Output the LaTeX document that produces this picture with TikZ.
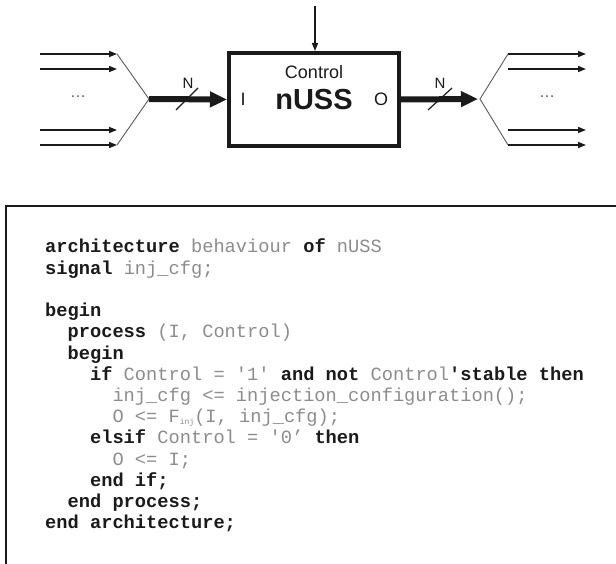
\documentclass[tikz,border=0pt]{standalone}
\usepackage{fontspec}
\setmainfont{Liberation Sans}
\newfontfamily\codefont{Liberation Mono}
\usetikzlibrary{arrows.meta}
\definecolor{ink}{HTML}{1A1A1A}
\definecolor{codegrey}{HTML}{8C8C8C}
\definecolor{fangrey}{HTML}{5A5A5A}
\newcommand{\kw}[1]{{\bfseries\color{ink}#1}}
\newcommand{\idf}[1]{{\color{codegrey}#1}}
\newcommand{\sq}{\textquotesingle}
\begin{document}
\begin{tikzpicture}[x=1pt,y=-1pt,
  thinarrow/.style={draw=ink,line width=1.5pt,-{Triangle[length=8pt,width=6pt]}},
  busarrow/.style={draw=ink,line width=6pt,-{Triangle[length=17pt,width=15pt]}},
  fanline/.style={draw=fangrey,line width=0.9pt},
  slashline/.style={draw=ink,line width=1.2pt},
  lbl/.style={inner sep=0pt,text=ink},
  codeline/.style={anchor=base west,inner sep=0pt,font=\codefont\fontsize{18.7}{21.2}\selectfont,text=codegrey},
  dots/.style={inner sep=0pt,text=fangrey,font=\fontsize{16}{16}\selectfont}]
\useasboundingbox (0,0) rectangle (616,564);

% ---------- block diagram ----------
\node[draw=ink,line width=4pt,minimum width=170pt,minimum height=93pt,inner sep=0pt] (box) at (314,99.5) {};
\node[lbl,font=\fontsize{18}{18}\selectfont] (ctl) at (314,72) {Control};
\node[lbl,font=\bfseries\fontsize{29}{29}\selectfont] (name) at (314,100) {nUSS};
\node[lbl,font=\fontsize{18}{18}\selectfont] (ilbl) at (243,99) {I};
\node[lbl,font=\fontsize{18}{18}\selectfont] (olbl) at (381,99) {O};

% control input
\coordinate (ctop) at (315,6);
\draw[thinarrow] (ctop) -- (ctop |- box.north);

% input fan
\coordinate (inL) at (149,99);
\foreach \i/\yy in {1/54,2/69,3/130,4/145}{
  \coordinate (is\i) at (40,\yy);
  \coordinate (ie\i) at (117,\yy);
  \draw[thinarrow] (is\i) -- (ie\i);
}
\draw[fanline] (ie1) -- (inL) -- (ie4);
\node[dots] (idots) at (78,97) {…};
\draw[busarrow] (inL) -- (box.west);
\coordinate (s1a) at (176,110);
\coordinate (s1b) at (198,88);
\draw[slashline] (s1a) -- (s1b);
\node[lbl,font=\fontsize{15}{15}\selectfont] (n1) at (188,83) {N};

% output fan
\coordinate (outR) at (478,99);
\draw[busarrow] (box.east) -- (outR);
\coordinate (s2a) at (428,110);
\coordinate (s2b) at (452,88);
\draw[slashline] (s2a) -- (s2b);
\node[lbl,font=\fontsize{15}{15}\selectfont] (n2) at (440,83) {N};
\foreach \i/\yy in {1/54,2/69,3/130,4/145}{
  \coordinate (os\i) at (508,\yy);
  \coordinate (oe\i) at (586,\yy);
  \draw[thinarrow] (os\i) -- (oe\i);
}
\coordinate (outF) at (480,99);
\draw[fanline] (os1) -- (outF) -- (os4);
\node[dots] (odots) at (547,97) {…};

% ---------- code box ----------
\begin{scope}
\clip (0,0) rectangle (616,564);
\draw[ink,line width=2.3pt] (6.2,206) rectangle (660,620);
\end{scope}

\def\cw{11.22}
\def\lh{21.2}
\node[codeline] (l0) at (45,253) {\kw{architecture} \idf{behaviour} \kw{of} \idf{nUSS}};
\node[codeline] (l1) at (45,253+\lh) {\kw{signal} \idf{inj\_cfg;}};
\node[codeline] (l3) at (45,253+3*\lh) {\kw{begin}};
\node[codeline] (l4) at (45+2*\cw,253+4*\lh) {\kw{process} \idf{(I, Control)}};
\node[codeline] (l5) at (45+2*\cw,253+5*\lh) {\kw{begin}};
\node[codeline] (l6) at (45+4*\cw,253+6*\lh) {\kw{if} \idf{Control = \sq1\sq} \kw{and not} \idf{Control}\kw{\sq stable then}};
\node[codeline] (l7) at (45+6*\cw,253+7*\lh) {\idf{inj\_cfg <= injection\_configuration();}};
\node[codeline] (l8) at (45+6*\cw,253+8*\lh) {\idf{O <= F{\fontsize{8}{8}\selectfont\raisebox{-2pt}{inj}}(I, inj\_cfg);}};
\node[codeline] (l9) at (45+4*\cw,253+9*\lh) {\kw{elsif} \idf{Control = \sq0’} \kw{then}};
\node[codeline] (l10) at (45+6*\cw,253+10*\lh) {\idf{O <= I;}};
\node[codeline] (l11) at (45+4*\cw,253+11*\lh) {\kw{end if;}};
\node[codeline] (l12) at (45+2*\cw,253+12*\lh) {\kw{end process;}};
\node[codeline] (l13) at (45,253+13*\lh) {\kw{end architecture;}};
\end{tikzpicture}
\end{document}
